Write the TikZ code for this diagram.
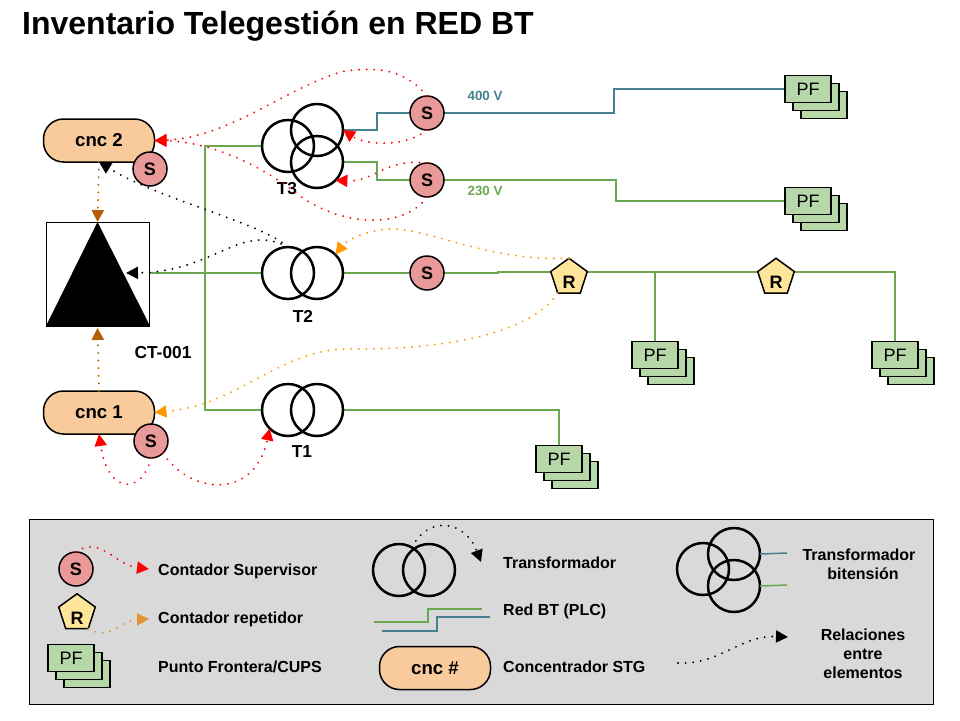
\documentclass[tikz,border=0pt]{standalone}
\usepackage{fontspec}
\setmainfont{Liberation Sans}
\usetikzlibrary{arrows.meta,shapes.geometric,backgrounds}
\definecolor{netgreen}{HTML}{6AA84F}
\definecolor{netblue}{HTML}{45818E}
\definecolor{meterfill}{HTML}{EA9999}
\definecolor{repfill}{HTML}{FFE599}
\definecolor{cncfill}{HTML}{F9CB9C}
\definecolor{pffill}{HTML}{B6D7A8}
\definecolor{legendfill}{HTML}{D9D9D9}
\definecolor{linkorange}{HTML}{FF9900}
\definecolor{linkbrown}{HTML}{B45F06}
\definecolor{legendorange}{HTML}{E69138}
\newcommand{\fsize}[1]{\fontsize{#1}{#1}\selectfont}
\newcommand{\pfstack}[3]{
  \node[pfbox] (#1c) at (#2+16,#3+16) {};
  \node[pfbox] (#1b) at (#2+8,#3+8) {};
  \node[pfbox] (#1) at (#2,#3) {PF};
}
\tikzset{
  coil/.style={circle,draw,line width=2.5pt,minimum size=52pt,inner sep=0pt,outer sep=0pt},
  meter/.style={circle,draw,fill=meterfill,line width=1.5pt,minimum size=34pt,inner sep=0pt,outer sep=0pt,font=\fsize{18}\bfseries},
  repeater/.style={regular polygon,regular polygon sides=5,draw,fill=repfill,line width=1.5pt,minimum size=37pt,inner sep=0pt,outer sep=0pt,text height=22pt,text depth=0pt,font=\fsize{18}\bfseries},
  cnc/.style={draw,fill=cncfill,rounded corners=20pt,line width=1.5pt,minimum width=111pt,minimum height=43pt,inner sep=0pt,outer sep=0pt,font=\fsize{18.67}\bfseries},
  pfbox/.style={draw,fill=pffill,line width=1.5pt,minimum width=46pt,minimum height=27pt,inner sep=0pt,outer sep=0pt,font=\fsize{18}},
  tag/.style={inner sep=0pt,font=\fsize{17.33}\bfseries},
  key/.style={inner sep=0pt,anchor=west,font=\fsize{16}\bfseries},
  grid/.style={line width=1.5pt,netgreen},
  grid2/.style={line width=1.5pt,netblue},
  link/.style={->,line width=2.1pt,line cap=round,dash pattern=on 0.01pt off 7.6pt},
}
\begin{document}
\begin{tikzpicture}[x=1pt,y=-1pt,>={Triangle[length=12pt,width=12pt]}]
\useasboundingbox (0,0) rectangle (960,720);
\node[inner sep=0pt,anchor=west,font=\fsize{32}\bfseries] (title) at (22,26) {Inventario Telegestión en RED BT};

\node[draw,fill=white,line width=1pt,minimum width=103pt,minimum height=104pt,inner sep=0pt,outer sep=0pt] (ct) at (97.5,274) {};
\fill (ct.north) -- (ct.south west) -- ([xshift=1pt]ct.south east) -- cycle;
\coordinate (trihit) at (126,273);
\node[tag] (ctname) at (163,353) {CT-001};

\node[cnc] (cnc2) at (99,140.5) {cnc 2};
\node[meter] (sc2) at (150,169) {S};
\node[cnc] (cnc1) at (99,412.5) {cnc 1};
\node[meter] (sc1) at (151,441) {S};

\node[coil] (t3a) at (288,146) {};
\node[coil] (t3b) at (317,130) {};
\node[coil] (t3c) at (317,162) {};
\node[tag] (t3name) at (287,189) {T3};
\node[coil] (t2a) at (288,273) {};
\node[coil] (t2b) at (317,273) {};
\node[tag] (t2name) at (303,316) {T2};
\node[coil] (t1a) at (288,410) {};
\node[coil] (t1b) at (317,410) {};
\node[tag] (t1name) at (302,452) {T1};

\node[meter] (s400) at (427,113) {S};
\node[meter] (s230) at (427,180) {S};
\node[meter] (st2) at (427,273) {S};
\node[repeater] (r1) at (569,277.5) {R};
\node[repeater] (r2) at (776,277.5) {R};
\node[inner sep=0pt,text=netblue,font=\fsize{13.33}\bfseries] (v400) at (485,96) {400 V};
\node[inner sep=0pt,text=netgreen,font=\fsize{13.33}\bfseries] (v230) at (485,191) {230 V};

\pfstack{pf400}{808}{89}
\pfstack{pf230}{808}{201}
\pfstack{pft1}{559}{459}
\pfstack{pfr1}{655}{355}
\pfstack{pfr2}{895}{355}

\coordinate (busup) at (205,146);
\coordinate (busmid) at (205,273);
\coordinate (buslow) at (205,410);
\coordinate (bend400) at (614,113);
\coordinate (bend230) at (616,180);
\coordinate (busr) at (895,272);

\begin{scope}[on background layer]
\draw[grid] (t3a.west) -- (busup) -- (buslow) -- (t1a.west);
\draw[grid,line width=2.4pt] (ct.east |- busmid) -- (busmid);
\draw[grid] (busmid) -- (t2a.west);
\draw[grid2] (t3b.east) -- ++(34,0) |- (s400.west);
\draw[grid2] (s400.east) -- (bend400) |- (pf400.west);
\draw[grid] (t3c.east) -- ++(34,0) |- (s230.west);
\draw[grid] (s230.east) -- (bend230) |- (pf230.west);
\draw[grid] (t2b.east) -- (st2.west);
\draw[grid] (st2.east) -- ++(54,0) |- (busr) -- (pfr2.north);
\draw[grid,line width=2.1pt] (r1.east |- busr) -- (pfr1.north |- busr);
\draw[grid] (pfr1.north |- busr) -- (pfr1.north);
\draw[grid] (t1b.east) -| (pft1.north);
\end{scope}

\draw[link,red] (s400.north) .. controls (402,66) and (372,68) .. (345,71) .. controls (292,84) and (230,138) .. (cnc2.east);
\draw[link,red] (s400.south) .. controls (405,148) and (365,145) .. (t3b.east);
\draw[link,red] (s230.north) .. controls (385,158) and (375,182) .. (t3c.-45);
\draw[link,red] (s230.south) .. controls (405,228) and (345,228) .. (300,196) .. controls (265,168) and (215,142) .. (cnc2.east);
\draw[link,red] (sc1.south) .. controls (142,495) and (108,495) .. (cnc1.south);
\draw[link,red] (sc1.-45) .. controls (190,495) and (255,500) .. (t1a.225);
\draw[link,linkorange] (r1.corner 1) .. controls (480,262) and (420,222) .. (380,230) .. controls (360,233) and (345,242) .. (t2b.north east);
\draw[link,linkorange] (r1.corner 3) .. controls (530,335) and (440,350) .. (350,349) .. controls (280,348) and (240,405) .. (cnc1.east);
\draw[link,linkbrown] (cnc2.south) -- (ct.north);
\draw[link,linkbrown,shorten >=2pt] (cnc1.north) -- (ct.south);
\draw[link] (t2a.north) .. controls (240,222) and (215,272) .. (trihit);
\draw[link] (t2a.north) .. controls (260,222) and (160,200) .. (cnc2.south);

\node[draw,fill=legendfill,line width=1pt,minimum width=904pt,minimum height=185pt,inner sep=0pt] (legend) at (481,611.5) {};

\node[meter] (keys) at (76,569) {S};
\node[repeater] (keyr) at (77,613) {R};
\pfstack{keypf}{71}{658}
\coordinate (keysend) at (149,569);
\coordinate (keyrend) at (149,619);
\draw[link,red] (keys.north) .. controls (100,535) and (115,565) .. (keysend);
\draw[link,legendorange] (keyr.corner 4) .. controls (110,642) and (120,620) .. (keyrend);
\node[key] (keystext) at (158,571) {Contador Supervisor};
\node[key] (keyrtext) at (158,619) {Contador repetidor};
\node[key] (keypftext) at (158,667) {Punto Frontera/CUPS};

\node[coil] (keyta) at (399,570) {};
\node[coil] (keytb) at (429,570) {};
\coordinate (keytend) at (481,562);
\draw[link] (keyta.60) .. controls (428,515) and (465,520) .. (keytend);
\coordinate (keyg1) at (374,622);
\coordinate (keyg2) at (482,609);
\coordinate (keyb1) at (382,631);
\coordinate (keyb2) at (490,617);
\draw[grid] (keyg1) -- ++(54,0) |- (keyg2);
\draw[grid2] (keyb1) -- ++(55,0) |- (keyb2);
\node[cnc] (keycnc) at (435,668) {cnc \#};
\node[key] (keyttext) at (503,563) {Transformador};
\node[key] (keygtext) at (503,611) {Red BT (PLC)};
\node[key] (keycnctext) at (503,667) {Concentrador STG};

\node[coil] (keyba) at (703,569) {};
\node[coil] (keybb) at (734,554) {};
\node[coil] (keybc) at (734,586) {};
\coordinate (keybbend) at (787,553);
\coordinate (keybcend) at (787,585);
\draw[grid2] (keybb.east) -- (keybbend);
\draw[grid] (keybc.east) -- (keybcend);
\node[inner sep=0pt,align=center,font=\fsize{16}\bfseries] (keybtext) at (859,564) {Transformador\\[3pt]\hspace*{8pt}bitensión};
\coordinate (keylstart) at (678,663);
\coordinate (keylend) at (788,637);
\draw[link] (keylstart) .. controls (720,665) and (740,635) .. (keylend);
\node[inner sep=0pt,align=center,font=\fsize{16}\bfseries] (keyltext) at (863,654) {Relaciones\\[3pt]entre\\[3pt]elementos};
\end{tikzpicture}
\end{document}
